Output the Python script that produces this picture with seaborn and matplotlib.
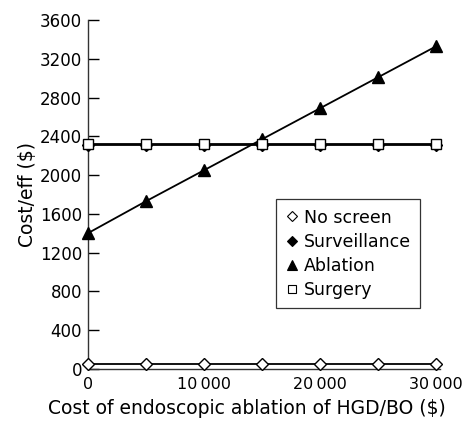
import seaborn as sns
import pandas as pd
import numpy as np
import matplotlib.pyplot as plt
from matplotlib.lines import Line2D

# cost of endoscopic ablation of HGD/BO ($)
ablation_cost = [0, 5000, 10000, 15000, 20000, 25000, 30000]

# cost per effectiveness for each strategy
no_screen = [50, 50, 50, 50, 50, 50, 50]
surveillance = [2312, 2312, 2312, 2312, 2312, 2312, 2312]
ablation = [1400, 1730, 2050, 2370, 2690, 3010, 3330]
surgery = [2320, 2320, 2320, 2320, 2320, 2320, 2320]

sns.set_style("ticks")
plt.rcParams['font.family'] = ['DejaVu Sans']
plt.rcParams['text.color'] = 'black'
plt.rcParams['axes.labelcolor'] = 'black'
plt.rcParams['xtick.color'] = 'black'
plt.rcParams['ytick.color'] = 'black'

df = pd.DataFrame({
    'cost': ablation_cost * 4,
    'value': no_screen + surveillance + ablation + surgery,
    'strategy': ['No screen'] * 7 + ['Surveillance'] * 7 + ['Ablation'] * 7 + ['Surgery'] * 7,
})

fig = plt.figure(figsize=(4.62, 4.21), dpi=100)
ax = fig.add_axes([0.19, 0.1235, 0.762, 0.829])

# marker, face colour, size for each series
styles = {
    'No screen': ('D', 'white', 6.5),
    'Surveillance': ('D', 'black', 6),
    'Ablation': ('^', 'black', 8.5),
    'Surgery': ('s', 'white', 6.5),
}

handles = []
for name in ['No screen', 'Surveillance', 'Ablation', 'Surgery']:
    m, fc, ms = styles[name]
    sub = df[df['strategy'] == name]
    sns.lineplot(data=sub, x='cost', y='value', ax=ax, color='black', lw=1.3,
                 marker=m, markersize=ms, markerfacecolor=fc, markeredgecolor='black',
                 markeredgewidth=1, clip_on=False, zorder=3)
    handles.append(Line2D([], [], linestyle='none', marker=m, markersize=ms * 0.8,
                          markerfacecolor=fc, markeredgecolor='black', markeredgewidth=0.8,
                          label=name))

ax.set_xlim(0, 30300)
ax.set_ylim(0, 3600)
ax.set_yticks(np.arange(0, 3601, 400))
ax.set_xticks([0, 10000, 20000, 30000])
ax.set_xticklabels(['0', '10\u2009000', '20\u2009000', '30\u2009000'])
ax.tick_params(axis='y', direction='in', length=8, width=1, labelsize=12, pad=4)
ax.tick_params(axis='x', direction='in', length=0, labelsize=11.5, pad=6)
for s in ['top', 'right']:
    ax.spines[s].set_visible(False)
for s in ['left', 'bottom']:
    ax.spines[s].set_linewidth(1)
    ax.spines[s].set_color('#333333')

ax.set_xlabel('Cost of endoscopic ablation of HGD/BO ($)', fontsize=13.5)
ax.xaxis.set_label_coords(0.452, -0.085)
ax.set_ylabel('Cost/eff ($)', fontsize=13.5, labelpad=2)

leg = ax.legend(handles=handles, loc='upper left', bbox_to_anchor=(0.51, 0.512),
                fontsize=12.5, frameon=True, fancybox=False, handlelength=0.7,
                handletextpad=0.35, borderpad=0.55, labelspacing=0.35)
leg.get_frame().set_edgecolor('black')
leg.get_frame().set_linewidth(0.9)

fig.savefig('out.png', dpi=100)
